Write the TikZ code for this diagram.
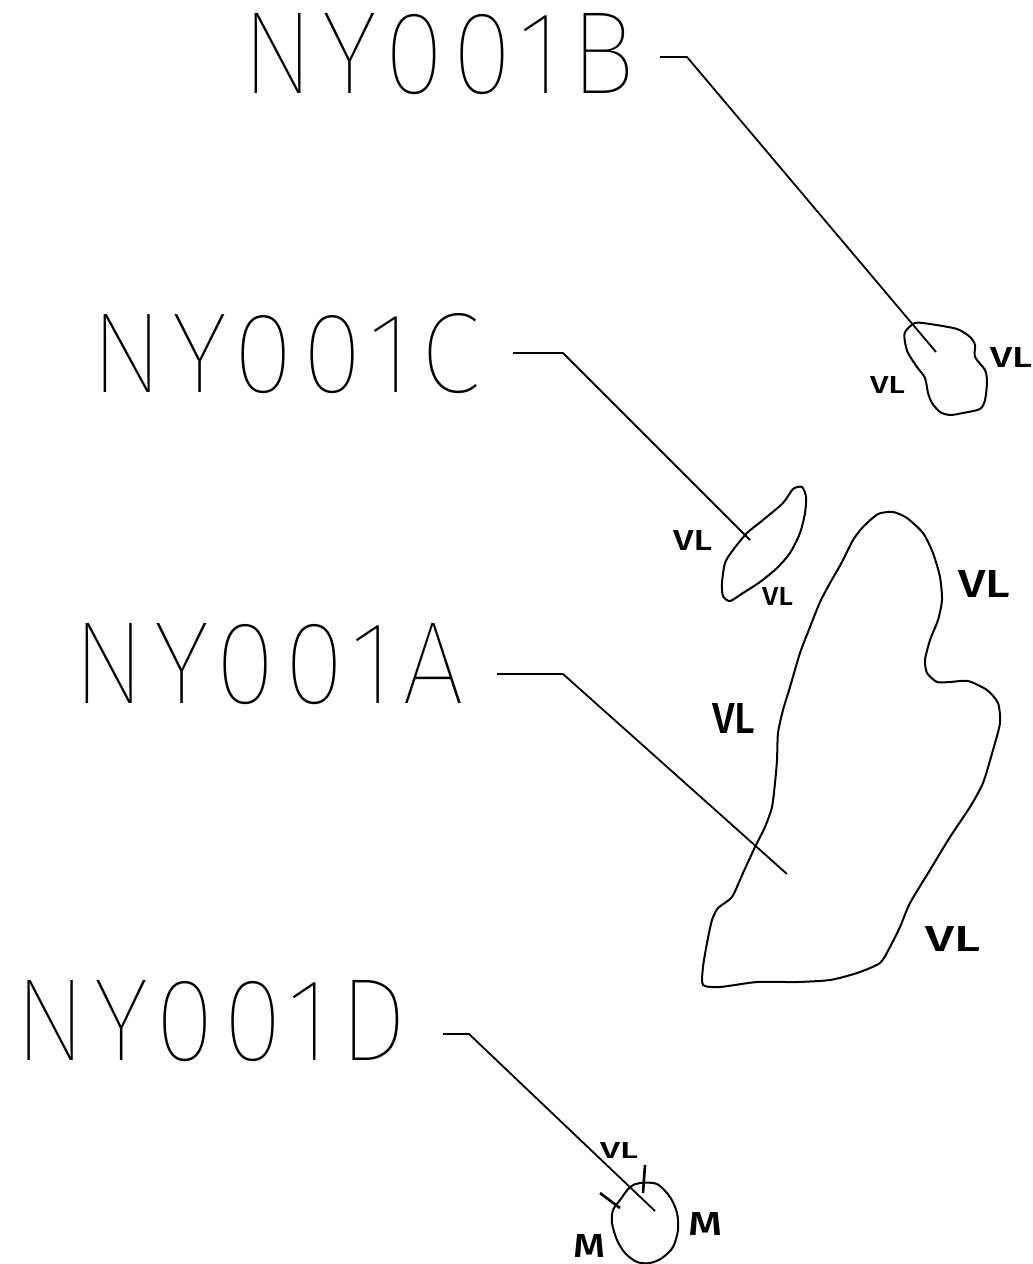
\documentclass[tikz,border=0pt]{standalone}
\usepackage{fontspec}
\newfontfamily\cadfont{Fira Sans Thin}[LetterSpace=8]
\newfontfamily\handfont{Fira Sans Medium}
\newcommand{\fitto}[3]{\resizebox{#1pt}{#2pt}{#3}}
\begin{document}
\begin{tikzpicture}[x=1pt,y=-1pt,
  lbl/.style={inner sep=0pt,outer sep=0pt,anchor=north west},
  hand/.style={inner sep=0pt,outer sep=0pt,anchor=north west},
  leader/.style={line width=1.8pt,line join=round},
  blob/.style={line width=2pt,line join=round}]
\useasboundingbox (0,0) rectangle (1033,1264);
\fill[white] (0,0) rectangle (1033,1264);

% ---- labels ----
\node[lbl] (tB) at (241,13)  {\fitto{394}{80}{\cadfont NY001B}};
\node[lbl] (tC) at (90,313)  {\fitto{390}{79}{\cadfont NY001C}};
\node[lbl] (tA) at (72,623)  {\fitto{392}{80}{\cadfont NY001A}};
\node[lbl] (tD) at (14,980)  {\fitto{393}{80}{\cadfont NY001D}};

% ---- leader coordinates ----
\coordinate (bS) at (660,57);  \coordinate (bK) at (687,57);  \coordinate (bE) at (936,352);
\coordinate (cS) at (513,353); \coordinate (cK) at (563,353); \coordinate (cE) at (750,540);
\coordinate (aS) at (497,674); \coordinate (aK) at (563,674); \coordinate (aE) at (787,874);
\coordinate (dS) at (443,1034);\coordinate (dK) at (469,1034);\coordinate (dE) at (655,1211);

\draw[leader] (bS) -- (bK) -- (bE);
\draw[leader] (cS) -- (cK) -- (cE);
\draw[leader] (aS) -- (aK) -- (aE);
\draw[leader] (dS) -- (dK) -- (dE);

% ---- blob B ----
\draw[blob] plot[smooth cycle,tension=0.45] coordinates {
 (905,332) (915,323) (930,324) (957,329) (970,337) (975,345) (975,357) (985,370)
 (987,382) (985,400) (980,409) (963,413) (950,415) (940,412) (932,403) (928,393)
 (925,378) (917,367) (908,353) (905,342)};

% ---- blob C ----
\draw[blob] plot[smooth cycle,tension=0.45] coordinates {
 (747,533) (763,520) (783,503) (793,489) (802,487) (806,497) (805,513) (800,533)
 (790,553) (777,568) (760,582) (743,593) (730,601) (723,596) (722,583) (725,563) (733,550)};

% ---- blob A ----
\draw[blob] plot[smooth cycle,tension=0.4] coordinates {
 (893,512) (878,514) (863,527) (853,540) (842,562) (830,583) (820,602) (810,627)
 (800,653) (790,687) (783,710) (778,733) (777,760) (775,783) (772,807) (765,827)
 (755,847) (743,873) (732,897) (718,908) (712,920) (707,943) (703,967) (703,985)
 (720,987) (757,982) (797,982) (830,980) (857,973) (880,963) (890,947) (900,927)
 (910,903) (930,870) (950,837) (970,807) (983,783) (993,750) (1000,723) (998,703)
 (987,690) (968,681) (950,682) (937,682) (927,673) (925,660) (930,640) (938,620)
 (942,600) (940,577) (933,553) (923,533) (907,518)};

% ---- blob D ----
\draw[blob] plot[smooth cycle,tension=0.5] coordinates {
 (630,1187) (640,1183) (657,1184) (670,1197) (677,1213) (678,1230) (673,1247)
 (662,1258) (650,1263) (637,1262) (625,1253) (617,1240) (612,1223) (613,1210) (620,1200)};
\draw[blob,line width=2.6pt] (645,1165) -- (643,1193);
\draw[blob,line width=2.6pt] (600,1193) -- (620,1208);

% ---- hand-written marks ----
\node[hand] (vB1) at (990,347)  {\fitto{42}{20}{\handfont VL}};
\node[hand] (vB2) at (870,376)  {\fitto{35}{17}{\handfont VL}};
\node[hand] (vC1) at (673,530)  {\fitto{39}{20}{\handfont VL}};
\node[hand] (vC2) at (762,587)  {\fitto{31}{18}{\handfont VL}};
\node[hand] (vA1) at (958,570)  {\fitto{52}{27}{\handfont VL}};
\node[hand] (vA2) at (712,703)  {\fitto{43}{30}{\handfont VL}};
\node[hand] (vA3) at (925,926)  {\fitto{55}{25}{\handfont VL}};
\node[hand] (vD1) at (600,1142) {\fitto{38}{16}{\handfont VL}};
\node[hand] (mD1) at (688,1212) {\fitto{34}{23}{\handfont M}};
\node[hand] (mD2) at (573,1234) {\fitto{32}{23}{\handfont M}};
\end{tikzpicture}
\end{document}
